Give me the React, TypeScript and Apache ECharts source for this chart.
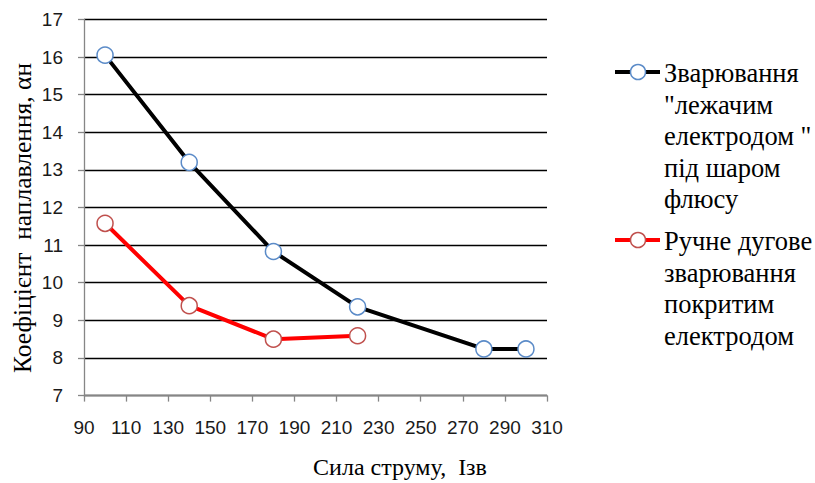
import React, { useEffect, useRef } from "react";
import * as echarts from "echarts";

const xTicks = [90, 110, 130, 150, 170, 190, 210, 230, 250, 270, 290, 310];
const flux = [
  [100, 16.05],
  [140, 13.2],
  [180, 10.83],
  [220, 9.36],
  [280, 8.24],
  [300, 8.24],
];
const manual = [
  [100, 11.58],
  [140, 9.39],
  [180, 8.5],
  [220, 8.59],
];
const fluxName = ["Зварювання", "\"лежачим", "електродом \"", "під шаром", "флюсу"];
const manualName = ["Ручне дугове", "зварювання", "покритим", "електродом"];
const xTitle = "Сила струму,  Ізв";
const yTitle = "Коефіцієнт  наплавлення, αн";

const serif = "Liberation Serif";
const sans = "Liberation Sans";

export default function App() {
  const ref = useRef<HTMLDivElement>(null);
  useEffect(() => {
    const chart = echarts.init(ref.current!, null, { renderer: "svg" });
    const legendItem = (y: number, color: string, border: string, lines: string[]) => [
      { type: "line", shape: { x1: 615, y1: y, x2: 660, y2: y }, style: { stroke: color, lineWidth: 4 } },
      { type: "circle", shape: { cx: 638, cy: y, r: 7.5 }, style: { fill: "#fff", stroke: border, lineWidth: 1.5 } },
      ...lines.map((t, i) => ({
        type: "text",
        x: 664,
        y: y + 1 + i * 31.5,
        style: {
          text: t,
          fontFamily: serif,
          fontSize: 26.5,
          fill: "#000",
          align: "left",
          verticalAlign: "middle",
        },
      })),
    ];
    chart.setOption({
      animation: false,
      backgroundColor: "#fff",
      grid: { left: 84, right: 268, top: 19.4, bottom: 87.4 },
      xAxis: {
        type: "value",
        min: 90,
        max: 310,
        interval: 20,
        axisLine: { show: true, lineStyle: { color: "#868686", width: 1.3 } },
        axisTick: { show: true, length: 6, lineStyle: { color: "#868686", width: 1.3 } },
        axisLabel: { color: "#1a1a1a", fontSize: 19, fontFamily: sans, margin: 22 },
        splitLine: { show: false },
      },
      yAxis: {
        type: "value",
        min: 7,
        max: 17,
        interval: 1,
        axisLine: { show: true, lineStyle: { color: "#868686", width: 1.3 } },
        axisTick: { show: true, length: 6, lineStyle: { color: "#868686", width: 1.3 } },
        axisLabel: { color: "#1a1a1a", fontSize: 19, fontFamily: sans, margin: 21 },
        splitLine: { show: true, lineStyle: { color: "#000", width: 1.4 } },
      },
      series: [
        {
          type: "line",
          name: fluxName.join(" "),
          data: flux,
          symbol: "circle",
          symbolSize: 16,
          lineStyle: { color: "#000", width: 4 },
          itemStyle: { color: "#fff", borderColor: "#5b8bc8", borderWidth: 1.5 },
          z: 3,
        },
        {
          type: "line",
          name: manualName.join(" "),
          data: manual,
          symbol: "circle",
          symbolSize: 16,
          lineStyle: { color: "#ff0000", width: 4 },
          itemStyle: { color: "#fff", borderColor: "#c0504d", borderWidth: 1.5 },
          z: 3,
        },
      ],
      graphic: [
        {
          type: "text",
          x: 400,
          y: 467,
          style: {
            text: xTitle,
            fontFamily: serif,
            fontSize: 24,
            fill: "#000",
            align: "center",
            verticalAlign: "middle",
          },
        },
        {
          type: "text",
          x: 22,
          y: 218,
          rotation: Math.PI / 2,
          style: {
            text: yTitle,
            fontFamily: serif,
            fontSize: 25.5,
            fill: "#000",
            align: "center",
            verticalAlign: "middle",
          },
        },
        ...legendItem(72, "#000", "#5b8bc8", fluxName),
        ...legendItem(240, "#ff0000", "#c0504d", manualName),
      ],
    });
    return () => chart.dispose();
  }, []);
  return <div ref={ref} style={{ position: "absolute", left: 0, top: 0, width: 815, height: 483 }} />;
}
